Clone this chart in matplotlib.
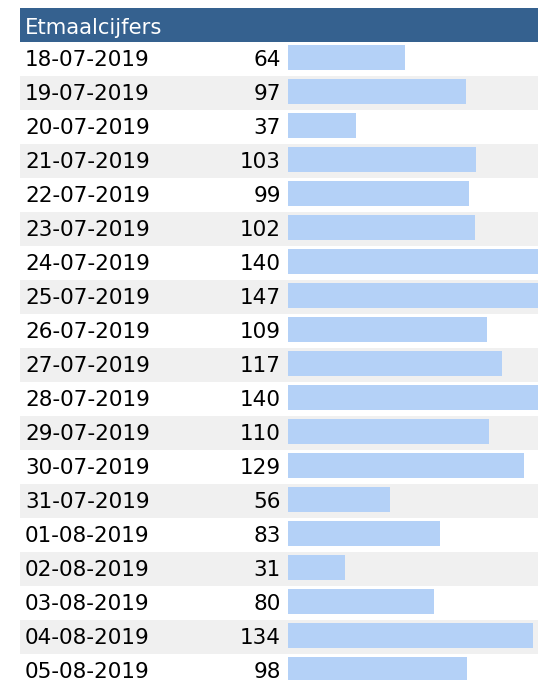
import matplotlib
matplotlib.use("Agg")
import matplotlib.pyplot as plt
from matplotlib.patches import Rectangle
import matplotlib.transforms as mtransforms

title = "Etmaalcijfers"
dates = ["18-07-2019", "19-07-2019", "20-07-2019", "21-07-2019", "22-07-2019",
         "23-07-2019", "24-07-2019", "25-07-2019", "26-07-2019", "27-07-2019",
         "28-07-2019", "29-07-2019", "30-07-2019", "31-07-2019", "01-08-2019",
         "02-08-2019", "03-08-2019", "04-08-2019", "05-08-2019"]
values = [64, 97, 37, 103, 99, 102, 140, 147, 109, 117, 140, 110, 129, 56, 83,
          31, 80, 134, 98]

W, H = 538, 680
DPI = 100
fig = plt.figure(figsize=(W / DPI, H / DPI), dpi=DPI)
fig.patch.set_facecolor("white")

HEADER_C = "#35618f"
BAR_C = "#b4d1f7"
GRAY_C = "#f0f0f0"
FS = 15.5

# header
fig.patches.append(Rectangle((20 / W, 1 - 41.5 / H), (W - 20) / W, 33.5 / H,
                             transform=fig.transFigure, facecolor=HEADER_C,
                             edgecolor="none", zorder=0))
fig.text(25 / W, 1 - 33.5 / H, title, color="white", fontsize=15.2,
         ha="left", va="baseline", family="DejaVu Sans")

# main axes: x from 20 px to 538 px, y from 42 px to 680 px
left, right = 20, W
top, bottom = 41.5, H
ax = fig.add_axes([left / W, 0, (right - left) / W, (bottom - top) / H])
ax.set_axis_off()
row_h = 34.0
nrows_visible = (bottom - top) / row_h
px_per_unit = 1.83
x0 = 288
ax.set_xlim(-(x0 - left) / px_per_unit, (right - x0) / px_per_unit)
ax.set_ylim(-0.5 + nrows_visible, -0.5)

xtr = mtransforms.blended_transform_factory(fig.transFigure, ax.transData)
n = len(dates)
for i in range(n):
    if i % 2 == 1:
        ax.axhspan(i - 0.5, i + 0.5, color=GRAY_C, lw=0, zorder=0)

bar_off = -1.5 / row_h
bar_h = 25 / row_h
ax.barh([i + bar_off for i in range(n)], values, height=bar_h, left=0,
        color=BAR_C, edgecolor="none", zorder=2)

base_off = 8.0 / row_h
for i, (d, v) in enumerate(zip(dates, values)):
    ax.text(25 / W, i + base_off, d, transform=xtr, ha="left", va="baseline",
            fontsize=FS, color="black", family="DejaVu Sans", zorder=3)
    ax.text(281 / W, i + base_off, str(v), transform=xtr, ha="right",
            va="baseline", fontsize=FS, color="black", family="DejaVu Sans",
            zorder=3)

fig.savefig("out.png", dpi=DPI)
